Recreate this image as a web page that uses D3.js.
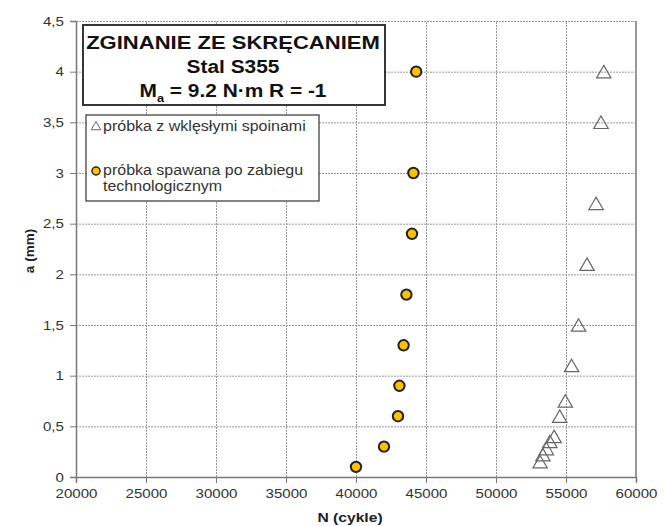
<!DOCTYPE html>
<html>
<head>
<meta charset="utf-8">
<script src="https://cdn.jsdelivr.net/npm/d3@7"></script>
<style>
  body { margin: 0; background: #fff; }
  text { font-family: "Liberation Sans", Arial, sans-serif; }
</style>
</head>
<body>
<div id="chart"></div>
<script>
// triangles: próbka z wklęsłymi spoinami
var triN = [53150, 53350, 53600, 53850, 54150, 54550, 54950, 55400, 55900, 56500, 57150, 57500, 57700],
	triA = [0.15, 0.22, 0.28, 0.35, 0.4, 0.6, 0.75, 1.1, 1.5, 2.1, 2.7, 3.5, 4.0];
// circles: próbka spawana po zabiegu technologicznym
var cirN = [40000, 42000, 43000, 43100, 43400, 43600, 44000, 44100, 44300],
	cirA = [0.1, 0.3, 0.6, 0.9, 1.3, 1.8, 2.4, 3.0, 4.0];
var xTicks = [20000, 25000, 30000, 35000, 40000, 45000, 50000, 55000, 60000],
	yTicks = [0, 0.5, 1, 1.5, 2, 2.5, 3, 3.5, 4, 4.5];

var width = 664,
	height = 526,
	pLeft = 76, pRight = 636, pTop = 21, pBottom = 477,
	stretch = 'scale(1.16,1)'; // the source image is a bit wide

var x = d3.scaleLinear().domain([20000, 60000]).range([pLeft, pRight]),
	y = d3.scaleLinear().domain([0, 4.5]).range([pBottom, pTop]);

var svg = d3.select("#chart")
	.append('svg')
	.attr('width', width)
	.attr('height', height);

// grid
svg.append('g')
	.attr('transform', 'translate(0,' + pBottom + ')')
	.call(d3.axisBottom(x).tickValues(xTicks).tickSize(-(pBottom - pTop)).tickFormat(''))
	.call(function(g){
		g.select('.domain').remove();
		g.selectAll('line').attr('stroke', '#999').attr('stroke-dasharray', '2,1');
	});
svg.append('g')
	.attr('transform', 'translate(' + pLeft + ',0)')
	.call(d3.axisLeft(y).tickValues(yTicks).tickSize(-(pRight - pLeft)).tickFormat(''))
	.call(function(g){
		g.select('.domain').remove();
		g.selectAll('line').attr('stroke', '#999').attr('stroke-dasharray', '2,1');
	});

// right border
svg.append('line')
	.attr('x1', pRight).attr('x2', pRight)
	.attr('y1', pTop).attr('y2', pBottom)
	.attr('stroke', '#999').attr('stroke-width', 2);

// axes
var fmt = function(d){ return String(d).replace('.', ','); };
svg.append('g')
	.attr('transform', 'translate(0,' + pBottom + ')')
	.call(d3.axisBottom(x).tickValues(xTicks).tickSize(6).tickPadding(6).tickFormat(d3.format('d')))
	.call(function(g){
		g.select('.domain').attr('stroke', '#777').attr('stroke-width', 1.5);
		g.selectAll('line').attr('stroke', '#777');
		g.selectAll('text').attr('font-size', 13).attr('fill', '#333')
			.attr('font-family', '"Liberation Sans", Arial, sans-serif')
			.attr('transform', stretch);
	});
svg.append('g')
	.attr('transform', 'translate(' + pLeft + ',0)')
	.call(d3.axisLeft(y).tickValues(yTicks).tickSize(6).tickPadding(6).tickFormat(fmt))
	.call(function(g){
		g.select('.domain').attr('stroke', '#777').attr('stroke-width', 1.5);
		g.selectAll('line').attr('stroke', '#777');
		g.selectAll('text').attr('font-size', 13).attr('fill', '#333')
			.attr('font-family', '"Liberation Sans", Arial, sans-serif')
			.attr('x', -10.5).attr('transform', stretch);
	});

svg.append('g')
	.attr('transform', 'translate(' + ((pLeft + pRight) / 2 - 6) + ',522) ' + stretch)
	.append('text')
	.attr('text-anchor', 'middle')
	.attr('font-size', 13.5).attr('font-weight', 'bold').attr('fill', '#222')
	.text('N (cykle)');
svg.append('text')
	.attr('transform', 'translate(34,' + ((pTop + pBottom) / 2 + 2) + ') rotate(-90)')
	.attr('text-anchor', 'middle')
	.attr('font-size', 13.5).attr('font-weight', 'bold').attr('fill', '#222')
	.text('a (mm)');

// data points (triangle centred on its box, like the source)
var triangle = d3.symbol().type(d3.symbolTriangle).size(90);
svg.selectAll('path.tri')
	.data(triN.map(function(n, i){ return {n: n, a: triA[i]}; }))
	.enter()
	.append('path')
	.attr('class', 'tri')
	.attr('d', triangle)
	.attr('transform', function(d){ return 'translate(' + x(d.n) + ',' + (y(d.a) + 2) + ')'; })
	.attr('fill', 'none')
	.attr('stroke', '#666')
	.attr('stroke-width', 1.2);

svg.selectAll('circle.pt')
	.data(cirN.map(function(n, i){ return {n: n, a: cirA[i]}; }))
	.enter()
	.append('circle')
	.attr('class', 'pt')
	.attr('cx', function(d){ return x(d.n); })
	.attr('cy', function(d){ return y(d.a); })
	.attr('r', 5.2)
	.attr('fill', '#FFC000')
	.attr('stroke', '#222')
	.attr('stroke-width', 2);

// title box
svg.append('rect')
	.attr('x', 83).attr('y', 25).attr('width', 302).attr('height', 80)
	.attr('fill', '#fff').attr('stroke', '#222').attr('stroke-width', 1.8);
var title = svg.append('g')
	.attr('transform', 'translate(233,0) ' + stretch)
	.attr('font-weight', 'bold').attr('fill', '#111').attr('text-anchor', 'middle');
title.append('text').attr('x', 0).attr('y', 49).attr('font-size', 19).text('ZGINANIE ZE SKRĘCANIEM');
title.append('text').attr('x', 0).attr('y', 73).attr('font-size', 18).text('Stal S355');
var t3 = title.append('text').attr('x', 0).attr('y', 97).attr('font-size', 18);
t3.append('tspan').text('M');
t3.append('tspan').attr('font-size', 11).attr('dy', 5).text('a');
t3.append('tspan').attr('dy', -5).text(' = 9.2 N·m R = -1');

// legend box
svg.append('rect')
	.attr('x', 86).attr('y', 115).attr('width', 233).attr('height', 86)
	.attr('fill', '#fff').attr('stroke', '#333').attr('stroke-width', 1.2);
svg.append('path')
	.attr('d', d3.symbol().type(d3.symbolTriangle).size(40))
	.attr('transform', 'translate(96,127)')
	.attr('fill', 'none').attr('stroke', '#666').attr('stroke-width', 1);
svg.append('circle')
	.attr('cx', 96).attr('cy', 171).attr('r', 4)
	.attr('fill', '#FFC000').attr('stroke', '#222').attr('stroke-width', 1.5);
var leg = svg.append('g')
	.attr('transform', 'translate(103,0) ' + stretch)
	.attr('font-size', 13.8).attr('fill', '#333');
leg.append('text').attr('x', 0).attr('y', 131).text('próbka z wklęsłymi spoinami');
leg.append('text').attr('x', 0).attr('y', 175).text('próbka spawana po zabiegu');
leg.append('text').attr('x', 0).attr('y', 191).text('technologicznym');
</script>
</body>
</html>
